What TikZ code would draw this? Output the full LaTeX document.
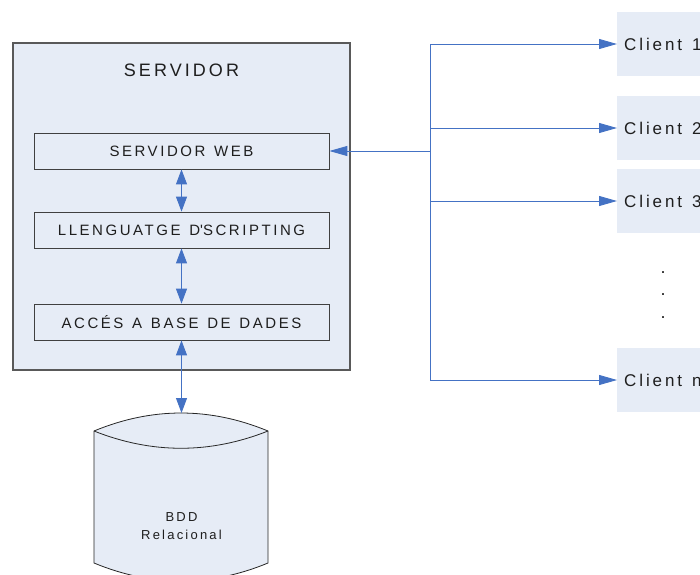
\documentclass[tikz,border=0pt]{standalone}
\usepackage{fontspec}
\setmainfont{Liberation Sans}
\newfontfamily\spaced[LetterSpace=17,WordSpace=1.3]{Liberation Sans}
\usetikzlibrary{arrows.meta,positioning,calc}
\definecolor{boxfill}{RGB}{230,236,246}
\definecolor{linkblue}{RGB}{68,114,196}
\definecolor{inkgray}{RGB}{30,30,30}

\begin{document}
\begin{tikzpicture}[x = 1pt, y = -1pt,
    server/.style = {draw = black!65, line width = 1.4pt, fill = boxfill,
                     minimum width = 337pt, minimum height = 327pt},
    title/.style  = {font = \fontsize{18}{21}\spaced, text = inkgray},
    layer/.style  = {draw = black!75, line width = 0.8pt, fill = boxfill,
                     minimum width = 295pt, minimum height = 36pt,
                     font = \fontsize{15}{18}\spaced, text = inkgray},
    client/.style = {fill = boxfill, anchor = west, minimum height = 64pt,
                     text width = 86pt, inner sep = 7pt, align = flush left,
                     font = \fontsize{17}{20}\spaced, text = inkgray},
    dbtext/.style = {align = center, font = \fontsize{13}{18}\spaced, text = inkgray},
    link/.style   = {draw = linkblue, line width = 0.9pt},
    both/.style   = {{Triangle[length=15pt,width=11pt]}-{Triangle[length=15pt,width=11pt]}},
    tip/.style    = {-{Triangle[length=18pt,width=10pt]}}
  ]
  \useasboundingbox (0,0) rectangle (700,574);
  \clip (0,0) rectangle (700,574);

  % server and its layers
  \node[server] at (181.5,206.5) (srv)      {};
  \node[title]  at (181.5, 70)   (srvtitle) {SERVIDOR};
  \node[layer]  at (181.5,151)   (web)      {SERVIDOR WEB};
  \node[layer]  at (181.5,230)   (script)   {LLENGUATGE D\textquotesingle SCRIPTING};
  \node[layer]  at (181.5,322)   (dbaccess) {ACCÉS A BASE DE DADES};

  % database
  \filldraw[fill = boxfill, draw = black!85, line width = 0.8pt]
    (94,431) .. controls (152,407) and (210,407) .. (268,431) -- (268,563)
    .. controls (210,587) and (152,587) .. (94,563) -- cycle;
  \draw[black!85, line width = 0.8pt]
    (94,431) .. controls (152,454) and (210,454) .. (268,431);
  \coordinate (dbtop) at (181.5,413);
  \node[dbtext] at (181.5,526) (bdd) {BDD\\Relacional};

  % clients
  \node[client] at (617, 44) (c1) {Client 1};
  \node[client] at (617,128) (c2) {Client 2};
  \node[client] at (617,201) (c3) {Client 3};
  \node[client] at (617,380) (cn) {Client n};
  \foreach \y [count = \i] in {273,295,318}
    \node[title, anchor = base] at (663,\y) (dot\i) {.};

  % links
  \draw[link, both] (web) -- (script);
  \draw[link, both] (script) -- (dbaccess);
  \draw[link, both] (dbaccess) -- (dbtop);
  \coordinate (hub) at (430,151);
  \draw[link, tip] (hub) -- (web);
  \foreach \c in {c1,c2,c3,cn}
    \draw[link, tip] (hub) |- (\c.west);
\end{tikzpicture}
\end{document}
